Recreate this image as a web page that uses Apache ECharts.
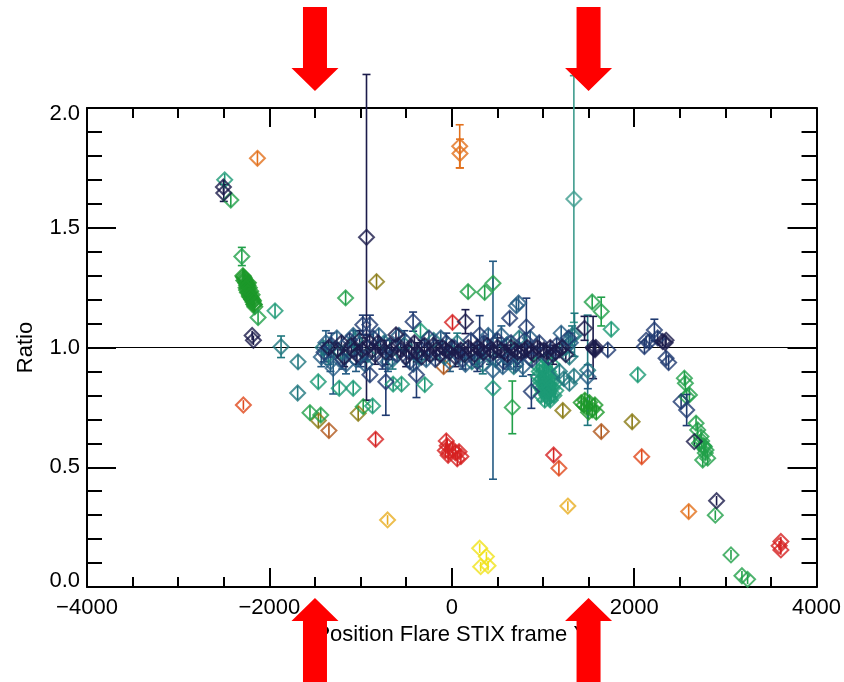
<!DOCTYPE html>
<html>
<head>
<meta charset="utf-8">
<script src="https://cdn.jsdelivr.net/npm/echarts@6.0.0/dist/echarts.min.js"></script>
<style>html,body{margin:0;padding:0;background:#fff}#c{width:844px;height:682px}</style>
</head>
<body>
<div id="c"></div>
<script>
// ---- data: [x, ratio, error] ----
const xTicks = [-4000, -2000, 0, 2000, 4000];
const yTicks = [0.0, 0.5, 1.0, 1.5, 2.0];
const arrowX = [-1500, 1500];
const refLine = [[-4000, 1], [4000, 1]];

const navyDark = [
  [-2504,1.67,0.03],[-2500,1.645,0.035],[-2189,1.05,0.02],[-2175,1.03,0.02],
  [-935,1.46,0.68],[150,1.108,0.05],[1456,1.08,0.05],
  [2313,1.025,0.02],[2350,1.03,0.02],[2340,1.02,0.02],[2660,0.607,0.02],[2904,0.36,0.02],
  [1550,1.0,0.13],[1570,0.99,0.03],[1580,1.0,0.03],[1560,0.995,0.02],
  [-1250,0.99,0.03],[-1180,0.96,0.04],[-1100,1.01,0.03],[-1040,0.97,0.04],[-980,0.99,0.05],
  [-900,1.02,0.03],[-840,0.97,0.04],[-780,1.00,0.03],[-720,0.98,0.05],[-612,1.053,0.03],
  [-560,0.99,0.03],[-500,0.96,0.04],[-440,1.00,0.03],[-380,0.98,0.04],[-300,1.01,0.03],
  [-240,0.97,0.03],[-170,0.99,0.04],[-100,1.00,0.03],[-30,0.98,0.03],[40,0.96,0.04],
  [100,0.99,0.03],[180,1.00,0.03],[250,0.97,0.04],[320,0.99,0.03],[390,1.01,0.03],
  [460,0.98,0.03],[540,0.99,0.03],[610,0.97,0.04],[690,0.99,0.03],[760,0.98,0.03],
  [830,1.00,0.03],[900,0.97,0.03],[970,0.99,0.03],[1040,0.98,0.03],[1110,0.97,0.04],
  [1180,0.99,0.03],[1250,0.97,0.03],
  [-1350,1.0,0.03],[-1210,1.02,0.03],[-1070,0.99,0.03],[-1010,1.03,0.04],[-870,0.99,0.03],
  [-810,1.02,0.03],[-660,0.99,0.04],[-590,1.01,0.03],[-470,0.98,0.03],[-410,1.02,0.03],
  [-330,0.96,0.03],[-270,0.99,0.03],[-200,1.01,0.03],[-130,0.97,0.03],[-70,0.99,0.03],
  [0,1.00,0.03],[70,0.98,0.03],[140,0.97,0.03],[210,0.99,0.03],[280,1.00,0.03],
  [350,0.98,0.03],[420,0.99,0.03],[500,1.00,0.04],[580,0.98,0.03],[650,1.00,0.03],
  [720,0.98,0.03],[800,0.99,0.03],[870,0.98,0.03],[940,1.00,0.03],[1010,0.99,0.03],
  [1080,1.00,0.03],[1140,0.98,0.03],[1210,1.00,0.03]
];
const navy = [
  [-975,1.095,0.04],[-898,1.095,0.04],[-424,1.108,0.04],[-898,0.886,0.03],
  [-723,0.857,0.14],[-387,0.886,0.095],[635,1.122,0.03],[818,1.086,0.12],
  [306,1.053,0.08],[873,0.816,0.07],[1711,0.99,0.03],
  [2113,1.004,0.03],[2168,1.025,0.03],[2258,1.04,0.03],[2222,1.073,0.045],[2131,1.03,0.02],
  [2350,0.955,0.03],[2378,0.937,0.03],[2515,0.774,0.03],[2576,0.739,0.065],
  [-1400,0.98,0.04],[-1320,1.01,0.05],[-1200,0.95,0.04],[-1120,1.03,0.03],[-1000,0.96,0.04],
  [-930,1.00,0.05],[-860,1.04,0.03],[-760,0.95,0.04],[-680,1.01,0.03],[-600,0.97,0.03],
  [-520,1.03,0.04],[-460,0.94,0.03],[-330,0.99,0.04],[-250,1.04,0.03],[-180,0.95,0.03],
  [-60,1.02,0.04],[30,1.00,0.03],[120,0.95,0.04],[210,1.03,0.03],[280,0.94,0.04],
  [350,1.02,0.03],[420,0.97,0.04],[500,1.03,0.03],[570,0.94,0.03],[650,1.02,0.03],
  [720,0.96,0.04],[800,1.03,0.03],[880,0.95,0.03],[960,1.02,0.03],[1060,0.96,0.03],
  [1150,1.01,0.03],[1280,1.04,0.03]
];
const steelBlue = [
  [-1300,0.913,0.107],[452,0.905,0.455],[708,1.174,0.03],[733,1.186,0.03],
  [544,1.05,0.04],[1492,0.878,0.05],
  [-1430,0.96,0.04],[-1380,1.02,0.05],[-1330,0.94,0.04],[-1260,1.04,0.03],[-1160,0.93,0.04],
  [-1080,1.05,0.03],[-1050,0.95,0.05],[-950,0.93,0.03],[-800,1.05,0.03],[-700,0.94,0.04],
  [-580,1.05,0.03],[-420,0.93,0.03],[-280,0.95,0.03],[-120,1.04,0.03],[-20,0.94,0.04],
  [150,0.93,0.03],[300,0.96,0.04],[400,1.05,0.03],[560,0.92,0.03],[620,0.95,0.04],
  [700,0.93,0.03],[780,0.92,0.04],[860,1.04,0.03],[1200,1.06,0.03],[1300,1.02,0.04]
];
const teal = [
  [-1872,1.003,0.045],[-1686,0.94,0.03],[-1690,0.81,0.03],[1346,1.053,0.09],
  [1490,0.905,0.23],[1180,0.9,0.03],[1230,0.87,0.03],[1290,0.85,0.03],[1340,0.88,0.03],
  [-1410,1.00,0.03],[-1350,0.97,0.04],[-1220,0.98,0.03],[-1140,0.99,0.03],[-1060,1.03,0.04],
  [-920,0.97,0.03],[-740,1.02,0.03],[-650,0.95,0.04],[-520,1.01,0.03],[-360,0.96,0.03],
  [-200,1.03,0.03],[-80,0.96,0.03],[60,1.02,0.04],[220,0.94,0.03],[340,0.93,0.04],
  [480,0.95,0.03],[600,1.01,0.03],[680,0.92,0.03],[740,1.04,0.03],[1250,1.00,0.03],
  [1320,1.05,0.04],[1290,0.96,0.03]
];
const tealLight = [[1339,1.62,0.515]];
const tealGreen = [
  [-2490,1.70,0.026],[-1938,1.153,0.03],[-1464,0.857,0.03],[-1234,0.83,0.03],[-1081,0.83,0.03],
  [-643,0.847,0.03],[-551,0.847,0.03],[-296,0.845,0.03],[-343,1.07,0.03],[-868,0.756,0.03],
  [1748,1.076,0.03],[2040,0.886,0.03],[452,0.83,0.03],
  [930,0.93,0.03],[960,0.90,0.03],[990,0.87,0.03],[1010,0.85,0.03],[1030,0.83,0.03],
  [1050,0.81,0.03],[1070,0.79,0.03],[1000,0.92,0.03],[1040,0.89,0.03],[1080,0.86,0.03],
  [1100,0.83,0.03],[1120,0.80,0.03],[960,0.84,0.03],[1000,0.82,0.03],[1060,0.84,0.03],
  [1090,0.88,0.03],[1130,0.85,0.03],[1020,0.78,0.03],[1080,0.78,0.03],[1140,0.82,0.03],
  [980,0.80,0.03],[1050,0.95,0.03],[1100,0.93,0.03],
  [950,0.88,0.03],[970,0.86,0.03],[1010,0.89,0.03],[1030,0.87,0.03],[1060,0.82,0.03],
  [1090,0.80,0.03],[1110,0.86,0.03],[990,0.83,0.03],[1045,0.80,0.03],[1075,0.83,0.03],
  [1020,0.91,0.03],[1060,0.90,0.03]
];
const green = [
  [-2423,1.616,0.03],[-2302,1.38,0.038],[-2124,1.125,0.03],[-1164,1.207,0.03],
  [179,1.233,0.03],[361,1.23,0.03],[452,1.268,0.03],[664,0.75,0.11],
  [-1555,0.728,0.03],[-1437,0.718,0.03],[-971,0.753,0.03],[1540,1.19,0.03],[1639,1.15,0.06],
  [2551,0.872,0.03],[2562,0.851,0.03],[2576,0.795,0.03],[2606,0.802,0.03],[2679,0.684,0.03],
  [2697,0.656,0.03],[2733,0.628,0.03],[2715,0.600,0.03],[2770,0.586,0.03],[2788,0.572,0.03],
  [2752,0.530,0.03],[2806,0.538,0.03],[2740,0.61,0.03],[2760,0.59,0.03],[2780,0.56,0.03],
  [2890,0.30,0.02],[3062,0.134,0.02],[3182,0.047,0.02],[3244,0.032,0.02]
];
const leafGreen = [
  [-2290,1.30,0.03],[-2275,1.29,0.03],[-2280,1.28,0.03],[-2260,1.27,0.03],[-2250,1.26,0.03],
  [-2240,1.25,0.03],[-2250,1.24,0.03],[-2225,1.23,0.03],[-2215,1.22,0.03],[-2210,1.21,0.03],
  [-2195,1.20,0.03],[-2180,1.19,0.03],[-2170,1.18,0.03],[-2160,1.17,0.03],[-2190,1.22,0.03],
  [-2230,1.27,0.03],
  [-2285,1.295,0.03],[-2265,1.28,0.03],[-2245,1.27,0.03],[-2235,1.26,0.03],[-2220,1.25,0.03],
  [-2205,1.235,0.03],[-2200,1.21,0.03],[-2185,1.20,0.03],[-2175,1.195,0.03],[-2165,1.18,0.03],
  [-2255,1.25,0.03],[-2240,1.23,0.03],[-2220,1.215,0.03],
  [1420,0.77,0.03],[1450,0.76,0.03],[1480,0.75,0.03],[1510,0.77,0.03],[1540,0.74,0.03],
  [1570,0.76,0.03],[1585,0.73,0.03],[1500,0.73,0.03],[1460,0.78,0.03]
];
const olive = [
  [-825,1.275,0.03],[-1463,0.695,0.03],[-1026,0.725,0.03],[1218,0.737,0.03],[1978,0.69,0.03]
];
const brown = [[-1347,0.653,0.03],[1639,0.649,0.03],[-89,0.92,0.03]];
const orange = [[-2131,1.79,0.03],[87,1.84,0.09],[90,1.81,0.06],[2598,0.315,0.03]];
const red = [
  [-835,0.617,0.03],[8,1.105,0.03],[1117,0.551,0.03],
  [-60,0.61,0.03],[-50,0.59,0.03],[-70,0.57,0.03],[-30,0.565,0.03],[10,0.575,0.03],
  [40,0.56,0.03],[80,0.565,0.03],[100,0.545,0.03],[60,0.535,0.03],[-40,0.55,0.03],
  [3609,0.19,0.02],[3609,0.155,0.02],[3590,0.172,0.02]
];
const redOrange = [[-2285,0.76,0.02],[1175,0.496,0.03],[2083,0.544,0.03]];
const gold = [[-704,0.28,0.02],[1273,0.338,0.02]];
const yellow = [[306,0.162,0.02],[380,0.127,0.02],[317,0.085,0.02],[398,0.089,0.02]];

// ---- styles ----
const groups = [
  {d: yellow, c: '#f0e21a'}, {d: gold, c: '#e9ae22'}, {d: redOrange, c: '#e0481c'},
  {d: red, c: '#d62222'}, {d: orange, c: '#e2701c'}, {d: brown, c: '#b0581c'},
  {d: olive, c: '#8a7a14'}, {d: leafGreen, c: '#1d982a'}, {d: green, c: '#22a04a'},
  {d: tealGreen, c: '#1d9a76'}, {d: tealLight, c: '#3f9c8e'}, {d: teal, c: '#1f777e'},
  {d: steelBlue, c: '#245b83'}, {d: navy, c: '#1f3a70'}, {d: navyDark, c: '#1b1b4b'}
];

const chart = echarts.init(document.getElementById('c'), null, {renderer: 'canvas'});
const FONT = '"Liberation Sans", Arial, Helvetica, sans-serif';

function errSeries(data, color) {
  return {
    type: 'custom', data: data, clip: false, silent: true, z: 2,
    encode: {x: 0, y: 1},
    renderItem: function (params, api) {
      const x = api.value(0), y = api.value(1), e = api.value(2);
      const lo = api.coord([x, y - e]), hi = api.coord([x, y + e]);
      const ch = [{type: 'line', shape: {x1: lo[0], y1: lo[1], x2: hi[0], y2: hi[1]},
        style: {stroke: color, lineWidth: 1.6}}];
      if (lo[1] - hi[1] > 16) {
        ch.push({type: 'line', shape: {x1: lo[0] - 4, y1: lo[1], x2: lo[0] + 4, y2: lo[1]}, style: {stroke: color, lineWidth: 1.6}});
        ch.push({type: 'line', shape: {x1: hi[0] - 4, y1: hi[1], x2: hi[0] + 4, y2: hi[1]}, style: {stroke: color, lineWidth: 1.6}});
      }
      return {type: 'group', children: ch};
    }
  };
}
function ptSeries(data, color) {
  return {
    type: 'scatter', data: data, symbol: 'diamond', symbolSize: [15, 15], z: 3,
    itemStyle: {color: 'rgba(0,0,0,0)', borderColor: color, borderWidth: 2},
    emphasis: {disabled: true}, silent: true
  };
}

const series = [{
  type: 'line', data: refLine, symbol: 'none', silent: true, z: 1,
  lineStyle: {color: '#000', width: 1}
}];
groups.forEach(g => { series.push(errSeries(g.d, g.c)); series.push(ptSeries(g.d, g.c)); });

const fmtX = v => (v < 0 ? '\u2212' + Math.abs(v) : String(v));
const fmtY = v => {
  const s = v.toFixed(1);
  if (v === 2) return '{t|' + s + '}';
  if (v === 0) return '{b|' + s + '}';
  return s;
};
const lblStyle = {color: '#000', fontSize: 22, fontFamily: FONT};

function xAx(pos, show) {
  return {
    type: 'value', position: pos, min: xTicks[0], max: xTicks[xTicks.length - 1],
    interval: xTicks[1] - xTicks[0],
    axisLine: {show: true, onZero: false, lineStyle: {color: '#000', width: 2}},
    axisTick: {show: true, inside: true, length: 19, lineStyle: {color: '#000', width: 2}},
    minorTick: {show: true, splitNumber: 4, length: 10, lineStyle: {color: '#000', width: 2}},
    splitLine: {show: false}, minorSplitLine: {show: false},
    axisLabel: Object.assign({show: show, margin: 10, formatter: fmtX}, lblStyle),
    name: show ? 'Position Flare STIX frame Y' : '', nameLocation: 'middle', nameGap: 27,
    nameTextStyle: {color: '#000', fontSize: 22, fontFamily: FONT}
  };
}
function yAx(pos, show) {
  return {
    type: 'value', position: pos, min: yTicks[0], max: yTicks[yTicks.length - 1],
    interval: yTicks[1] - yTicks[0],
    axisLine: {show: true, onZero: false, lineStyle: {color: '#000', width: 2}},
    axisTick: {show: true, inside: true, length: 29, lineStyle: {color: '#000', width: 2}},
    minorTick: {show: true, splitNumber: 5, length: 15, lineStyle: {color: '#000', width: 2}},
    splitLine: {show: false}, minorSplitLine: {show: false},
    axisLabel: Object.assign({show: show, margin: 7, formatter: fmtY,
      rich: {t: {fontSize: 22, fontFamily: FONT, color: '#000', padding: [11, 0, 0, 0]},
             b: {fontSize: 22, fontFamily: FONT, color: '#000', padding: [0, 0, 12, 0]}}}, lblStyle),
    name: show ? 'Ratio' : '', nameLocation: 'middle', nameGap: 50, nameRotate: 90,
    nameTextStyle: {color: '#000', fontSize: 22, fontFamily: FONT}
  };
}

chart.setOption({
  animation: false,
  backgroundColor: '#fff',
  grid: {left: 87, right: 27, top: 108, bottom: 95, containLabel: false},
  xAxis: [xAx('bottom', true), xAx('top', false)],
  yAxis: [yAx('left', true), yAx('right', false)],
  series: series
});

// red arrows placed at x = +-1500 via axis conversion
const yTopPx = chart.convertToPixel({yAxisIndex: 0}, yTicks[yTicks.length - 1]);
const yBotPx = chart.convertToPixel({yAxisIndex: 0}, yTicks[0]);
const H = chart.getHeight();
const arrows = [];
arrowX.forEach(v => {
  const cx = chart.convertToPixel({xAxisIndex: 0}, v);
  const tTip = yTopPx - 17, tBase = yTopPx - 40, tTop = 7;
  arrows.push({type: 'polygon', z: 100, shape: {points: [
    [cx - 12, tTop], [cx + 12, tTop], [cx + 12, tBase], [cx + 23.5, tBase], [cx, tTip],
    [cx - 23.5, tBase], [cx - 12, tBase]]}, style: {fill: '#ff0000'}});
  const bTip = yBotPx + 11, bBase = yBotPx + 34;
  arrows.push({type: 'polygon', z: 100, shape: {points: [
    [cx, bTip], [cx + 23.5, bBase], [cx + 12, bBase], [cx + 12, H], [cx - 12, H],
    [cx - 12, bBase], [cx - 23.5, bBase]]}, style: {fill: '#ff0000'}});
});
chart.setOption({graphic: arrows});
</script>
</body>
</html>
